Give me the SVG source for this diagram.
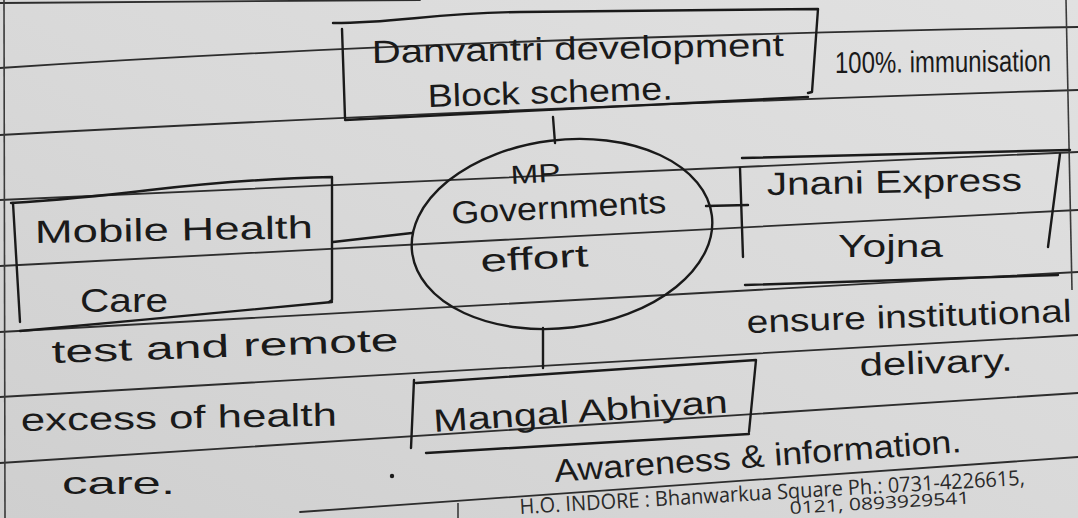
<svg xmlns="http://www.w3.org/2000/svg" width="1078" height="518" viewBox="0 0 1078 518">
<defs>
<linearGradient id="paperGrad" x1="0" y1="1" x2="1" y2="0">
<stop offset="0" stop-color="#cfcfcf"/>
<stop offset="0.5" stop-color="#d9d9d9"/>
<stop offset="1" stop-color="#e1e1e1"/>
</linearGradient>
<style>
.rule{fill:none;stroke:#2d2d2d;stroke-width:1.8;stroke-linecap:round}
.margin{fill:none;stroke:#3a3a3a;stroke-width:1.6}
.ink{fill:none;stroke:#1a1a1a;stroke-width:2.4;stroke-linecap:round;stroke-linejoin:round}
.hw{font-family:"Liberation Sans",Arial,sans-serif;font-size:32px;fill:#1a1a1a}
.print{font-family:"Open Sans","Liberation Sans",sans-serif;font-size:21px;fill:#2a2a2a}
</style>
</defs>

<g id="paper">
<rect x="0" y="0" width="1078" height="518" fill="url(#paperGrad)"/>
<path class="rule" d="M0,3 L420,0"/>
<path class="rule" d="M0,68 Q450,38 1078,27"/>
<path class="rule" d="M0,135 Q500,108 1078,90"/>
<path class="rule" d="M0,200 Q500,176 1078,152"/>
<path class="rule" d="M0,266 Q540,236 1078,210"/>
<path class="rule" d="M0,332 L1078,272"/>
<path class="rule" d="M0,397 L1078,335"/>
<path class="rule" d="M0,463 L1078,393"/>
<path class="rule" d="M300,512 L1078,457"/>
<path class="margin" d="M4,0 L5,518"/>
<path class="margin" d="M1066,0 L1072,290"/>
<path class="margin" d="M458,503 L458,518"/>
</g>

<g id="connectors">
<path class="ink" d="M553,117 L555,143"/>
<path class="ink" d="M333,242 L412,233"/>
<path class="ink" d="M706,206 L748,205"/>
<path class="ink" d="M543,328 L543,368"/>
</g>

<g id="node-danvantri">
<path class="ink" d="M342,29 L345,118"/>
<path class="ink" d="M333,23 C400,23 430,13 520,12 L818,9 L812,92 L808,93"/>
<path class="ink" d="M345,120 L808,97"/>
<text class="hw" x="372" y="63" textLength="412" lengthAdjust="spacingAndGlyphs" transform="rotate(-1 372 63)">Danvantri development</text>
<text class="hw" x="428" y="107" textLength="245" lengthAdjust="spacingAndGlyphs" transform="rotate(-1.8 428 107)">Block scheme.</text>
</g>

<g id="note-immunisation">
<text class="hw" x="0" y="0" style="font-size:30px" transform="translate(835 73) rotate(-0.5) scale(0.8 1)">100%. immunisation</text>
</g>

<g id="node-mp-gov">
<ellipse class="ink" cx="562" cy="234" rx="151" ry="94" transform="rotate(-7 562 234)"/>
<text class="hw" x="511" y="184" style="font-size:26px" textLength="50" lengthAdjust="spacingAndGlyphs" transform="rotate(-3 511 184)">MP</text>
<text class="hw" x="452" y="224" textLength="215" lengthAdjust="spacingAndGlyphs" transform="rotate(-3 452 224)">Governments</text>
<text class="hw" x="481" y="272" textLength="108" lengthAdjust="spacingAndGlyphs" transform="rotate(-3 481 272)">effort</text>
</g>

<g id="node-mobile">
<path class="ink" d="M13,203 L20,322"/>
<path class="ink" d="M11,203 C60,200 100,196 150,190 C220,182 280,178 332,177 L332,300 L329,302"/>
<path class="ink" d="M332,302 C250,310 120,322 20,331"/>
<text class="hw" x="35" y="243" textLength="278" lengthAdjust="spacingAndGlyphs" transform="rotate(-1 35 243)">Mobile Health</text>
<text class="hw" x="80" y="312" style="font-size:34px" textLength="88" lengthAdjust="spacingAndGlyphs">Care</text>
</g>

<g id="note-mobile">
<text class="hw" x="52" y="363" textLength="347" lengthAdjust="spacingAndGlyphs" transform="rotate(-2 52 363)">test and remote</text>
<text class="hw" x="21" y="431" textLength="316" lengthAdjust="spacingAndGlyphs" transform="rotate(-1 21 431)">excess of health</text>
<text class="hw" x="62" y="494" textLength="113" lengthAdjust="spacingAndGlyphs">care.</text>
</g>

<g id="node-jnani">
<path class="ink" d="M740,168 L743,257"/>
<path class="ink" d="M742,158 L1070,150"/>
<path class="ink" d="M1060,154 L1048,247"/>
<path class="ink" d="M745,285 L1058,275"/>
<text class="hw" x="767" y="195" textLength="255" lengthAdjust="spacingAndGlyphs" transform="rotate(-1 767 195)">Jnani Express</text>
<text class="hw" x="838" y="257" textLength="105" lengthAdjust="spacingAndGlyphs">Yojna</text>
</g>

<g id="note-jnani">
<text class="hw" x="747" y="333" textLength="325" lengthAdjust="spacingAndGlyphs" transform="rotate(-2 747 333)">ensure institutional</text>
<text class="hw" x="860" y="376" textLength="153" lengthAdjust="spacingAndGlyphs" transform="rotate(-2 860 376)">delivary.</text>
</g>

<g id="node-mangal">
<path class="ink" d="M414,380 L411,448"/>
<path class="ink" d="M416,383 L756,360 L749,432"/>
<path class="ink" d="M749,434 L426,453"/>
<text class="hw" x="434" y="432" textLength="295" lengthAdjust="spacingAndGlyphs" transform="rotate(-3.8 434 432)">Mangal Abhiyan</text>
</g>

<g id="note-mangal">
<circle cx="392" cy="476" r="2.2" fill="#1a1a1a"/>
<text class="hw" x="555" y="482" textLength="408" lengthAdjust="spacingAndGlyphs" transform="rotate(-4.2 555 482)">Awareness &amp; information.</text>
</g>

<g id="footer">
<text class="print" x="520" y="514" textLength="506" lengthAdjust="spacingAndGlyphs" transform="rotate(-3.3 520 514)">H.O. INDORE : Bhanwarkua Square Ph.: 0731-4226615,</text>
<text class="print" x="790" y="514" style="font-size:17px" textLength="180" lengthAdjust="spacingAndGlyphs" transform="rotate(-3.3 790 514)">0121, 0893929541</text>
</g>
</svg>
